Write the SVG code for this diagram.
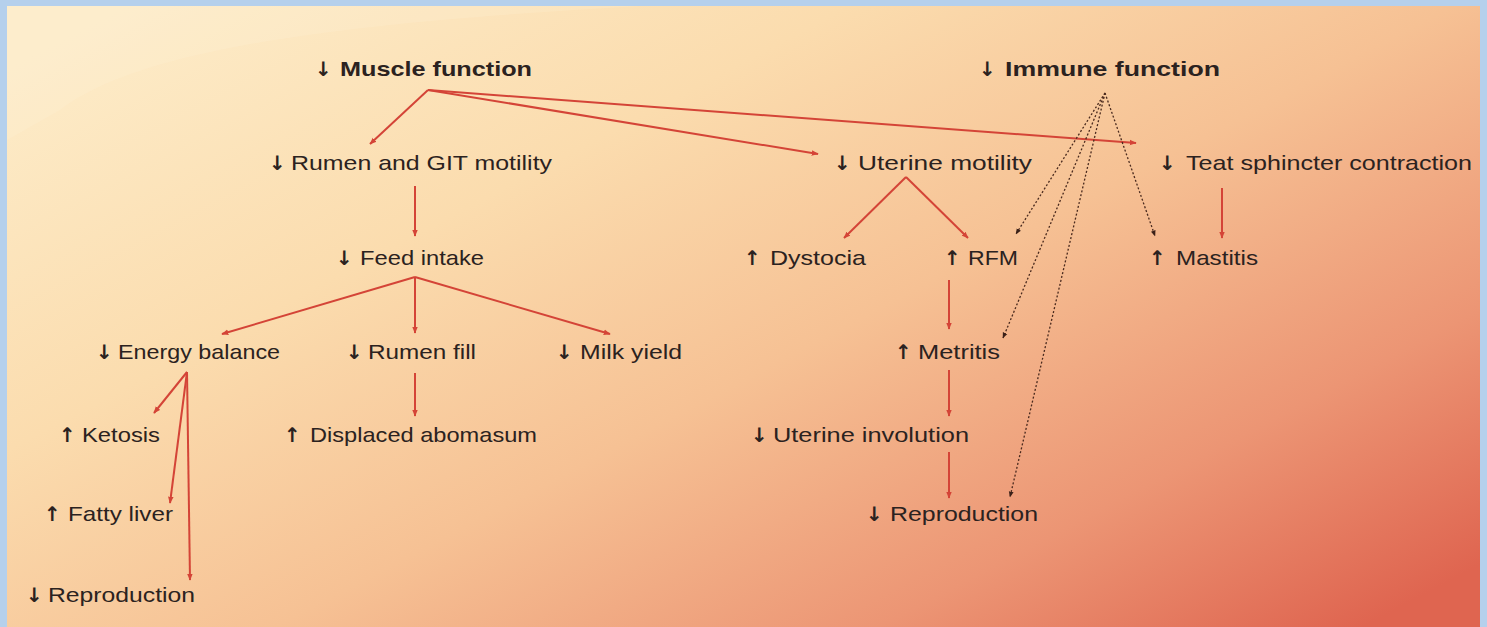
<svg xmlns="http://www.w3.org/2000/svg" width="1487" height="627" viewBox="0 0 1487 627">
<defs>
<linearGradient id="bg" x1="0" y1="0.1" x2="1" y2="0.9">
<stop offset="0" stop-color="#fdecc9"/>
<stop offset="0.3" stop-color="#fbdcae"/>
<stop offset="0.55" stop-color="#f6c194"/>
<stop offset="0.8" stop-color="#ec9574"/>
<stop offset="1" stop-color="#df6550"/>
</linearGradient>
<marker id="ra" viewBox="0 0 10 10" refX="9" refY="5" markerWidth="7" markerHeight="7" orient="auto" markerUnits="userSpaceOnUse">
<path d="M0,1 L10,5 L0,9 z" fill="#d44437"/>
</marker>
<marker id="da" viewBox="0 0 10 10" refX="9" refY="5" markerWidth="6" markerHeight="6" orient="auto" markerUnits="userSpaceOnUse">
<path d="M0,1 L10,5 L0,9 z" fill="#3a2018"/>
</marker>
</defs>
<style>
.t{font-family:"Liberation Sans",Arial,sans-serif;font-size:21px;fill:#2b2220}
.b{font-weight:bold}
.ar{font-family:"DejaVu Sans",sans-serif;font-size:20px;font-weight:bold;fill:#2b2220}
.r{stroke:#d44437;stroke-width:2;fill:none}
.d{stroke:#4a2a1e;stroke-width:1.3;stroke-dasharray:2 2;fill:none}
</style>
<rect x="0" y="0" width="1487" height="627" fill="#b5d0ec"/>
<rect x="7" y="6" width="1473" height="621" fill="url(#bg)"/>
<path d="M7,6 L640,6 C400,20 150,40 60,110 L7,140 z" fill="#fff6e0" opacity="0.18"/>

<g id="connectors">
<line class="r" marker-end="url(#ra)" x1="428" y1="90" x2="370" y2="144"/>
<line class="r" marker-end="url(#ra)" x1="428" y1="90" x2="818" y2="154"/>
<line class="r" marker-end="url(#ra)" x1="428" y1="90" x2="1136" y2="143"/>
<line class="r" marker-end="url(#ra)" x1="415" y1="186" x2="415" y2="236"/>
<line class="r" marker-end="url(#ra)" x1="415" y1="277" x2="222" y2="334"/>
<line class="r" marker-end="url(#ra)" x1="415" y1="277" x2="415" y2="333"/>
<line class="r" marker-end="url(#ra)" x1="415" y1="277" x2="610" y2="334"/>
<line class="r" marker-end="url(#ra)" x1="187" y1="372" x2="154" y2="413"/>
<line class="r" marker-end="url(#ra)" x1="187" y1="372" x2="170" y2="503"/>
<line class="r" marker-end="url(#ra)" x1="187" y1="372" x2="190" y2="580"/>
<line class="r" marker-end="url(#ra)" x1="415" y1="373" x2="415" y2="416"/>
<line class="r" marker-end="url(#ra)" x1="906" y1="177" x2="844" y2="238"/>
<line class="r" marker-end="url(#ra)" x1="906" y1="177" x2="968" y2="238"/>
<line class="r" marker-end="url(#ra)" x1="949" y1="280" x2="949" y2="329"/>
<line class="r" marker-end="url(#ra)" x1="949" y1="370" x2="949" y2="416"/>
<line class="r" marker-end="url(#ra)" x1="949" y1="452" x2="949" y2="498"/>
<line class="r" marker-end="url(#ra)" x1="1222" y1="188" x2="1222" y2="238"/>
<line class="d" marker-end="url(#da)" x1="1105" y1="93" x2="1016" y2="234"/>
<line class="d" marker-end="url(#da)" x1="1105" y1="93" x2="1003" y2="338"/>
<line class="d" marker-end="url(#da)" x1="1105" y1="93" x2="1010" y2="497"/>
<line class="d" marker-end="url(#da)" x1="1105" y1="93" x2="1155" y2="236"/>
</g>

<g id="n-muscle"><text class="ar" x="315" y="76">↓</text><text class="t b" x="340" y="76" textLength="192" lengthAdjust="spacingAndGlyphs">Muscle function</text></g>
<g id="n-immune"><text class="ar" x="979" y="76">↓</text><text class="t b" x="1005" y="76" textLength="215" lengthAdjust="spacingAndGlyphs">Immune function</text></g>
<g id="n-rumen-git"><text class="ar" x="269" y="170">↓</text><text class="t" x="291" y="170" textLength="261" lengthAdjust="spacingAndGlyphs">Rumen and GIT motility</text></g>
<g id="n-uterine"><text class="ar" x="834" y="170">↓</text><text class="t" x="858" y="170" textLength="174" lengthAdjust="spacingAndGlyphs">Uterine motility</text></g>
<g id="n-teat"><text class="ar" x="1159" y="170">↓</text><text class="t" x="1186" y="170" textLength="286" lengthAdjust="spacingAndGlyphs">Teat sphincter contraction</text></g>
<g id="n-feed"><text class="ar" x="336" y="265">↓</text><text class="t" x="360" y="265" textLength="124" lengthAdjust="spacingAndGlyphs">Feed intake</text></g>
<g id="n-dystocia"><text class="ar" x="744" y="265">↑</text><text class="t" x="770" y="265" textLength="96" lengthAdjust="spacingAndGlyphs">Dystocia</text></g>
<g id="n-rfm"><text class="ar" x="944" y="265">↑</text><text class="t" x="968" y="265" textLength="50" lengthAdjust="spacingAndGlyphs">RFM</text></g>
<g id="n-mastitis"><text class="ar" x="1149" y="265">↑</text><text class="t" x="1176" y="265" textLength="82" lengthAdjust="spacingAndGlyphs">Mastitis</text></g>
<g id="n-energy"><text class="ar" x="96" y="359">↓</text><text class="t" x="118" y="359" textLength="162" lengthAdjust="spacingAndGlyphs">Energy balance</text></g>
<g id="n-rumenfill"><text class="ar" x="346" y="359">↓</text><text class="t" x="368" y="359" textLength="108" lengthAdjust="spacingAndGlyphs">Rumen fill</text></g>
<g id="n-milk"><text class="ar" x="556" y="359">↓</text><text class="t" x="580" y="359" textLength="102" lengthAdjust="spacingAndGlyphs">Milk yield</text></g>
<g id="n-metritis"><text class="ar" x="895" y="359">↑</text><text class="t" x="918" y="359" textLength="82" lengthAdjust="spacingAndGlyphs">Metritis</text></g>
<g id="n-ketosis"><text class="ar" x="59" y="442">↑</text><text class="t" x="82" y="442" textLength="78" lengthAdjust="spacingAndGlyphs">Ketosis</text></g>
<g id="n-displaced"><text class="ar" x="284" y="442">↑</text><text class="t" x="310" y="442" textLength="227" lengthAdjust="spacingAndGlyphs">Displaced abomasum</text></g>
<g id="n-involution"><text class="ar" x="751" y="442">↓</text><text class="t" x="773" y="442" textLength="196" lengthAdjust="spacingAndGlyphs">Uterine involution</text></g>
<g id="n-fatty"><text class="ar" x="44" y="521">↑</text><text class="t" x="68" y="521" textLength="105" lengthAdjust="spacingAndGlyphs">Fatty liver</text></g>
<g id="n-repro-right"><text class="ar" x="866" y="521">↓</text><text class="t" x="890" y="521" textLength="148" lengthAdjust="spacingAndGlyphs">Reproduction</text></g>
<g id="n-repro-left"><text class="ar" x="26" y="602">↓</text><text class="t" x="48" y="602" textLength="147" lengthAdjust="spacingAndGlyphs">Reproduction</text></g>
</svg>
